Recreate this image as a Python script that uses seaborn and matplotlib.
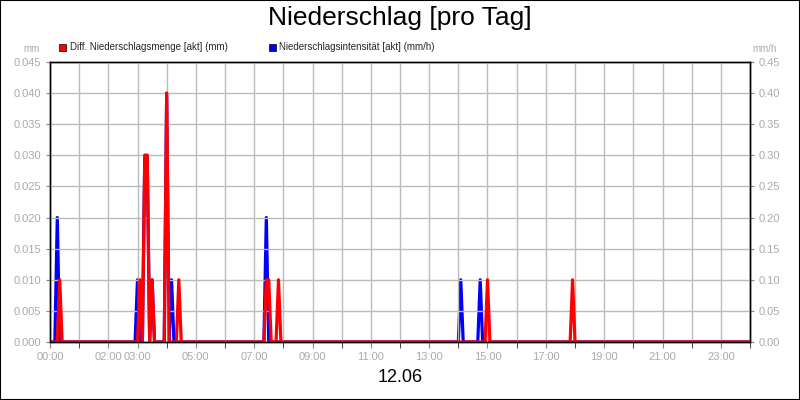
import numpy as np
import pandas as pd
import matplotlib
matplotlib.use("Agg")
import matplotlib.pyplot as plt
import seaborn as sns
from matplotlib.patches import Rectangle

# data: nonzero readings (minute of day -> value); all others are 0
red_minutes = [20, 185, 195, 200, 210, 240, 265, 445, 450, 470, 900, 1075]
red_values = [0.01, 0.01, 0.03, 0.03, 0.01, 0.04, 0.01, 0.01, 0.01, 0.01, 0.01, 0.01]
blue_minutes = [15, 180, 195, 200, 210, 240, 250, 445, 845, 885]
blue_values = [0.2, 0.1, 0.3, 0.3, 0.1, 0.4, 0.1, 0.2, 0.1, 0.1]
tick_hours = [0, 2, 3, 5, 7, 9, 11, 13, 15, 17, 19, 21, 23]

t = np.arange(0, 1441, 5)
red = np.zeros(len(t)); blue = np.zeros(len(t))
for m, v in zip(red_minutes, red_values):
    red[t == m] = v
for m, v in zip(blue_minutes, blue_values):
    blue[t == m] = v
df = pd.DataFrame({"h": t / 60.0, "red": red, "blue": blue})

sns.set_style("white")
plt.rcParams["font.family"] = ["Liberation Sans", "DejaVu Sans"]
fig = plt.figure(figsize=(8, 4), dpi=100)
fig.patches.append(Rectangle((0, 0), 1, 1, transform=fig.transFigure, fill=False,
                             edgecolor="black", linewidth=1.5))
ax = fig.add_axes([0.0625, 0.145, 0.875, 0.70])
ax2 = ax.twinx()

sns.lineplot(data=df, x="h", y="blue", ax=ax2, color="#0000ff", linewidth=2.3)
sns.lineplot(data=df, x="h", y="red", ax=ax, color="#ff0000", linewidth=2.3)
ax.set_zorder(ax2.get_zorder() + 1)
ax.patch.set_visible(False)

ax.set_xlim(0, 24)
ax.set_ylim(0, 0.045)
ax2.set_ylim(0, 0.45)
ax.set_yticks(np.arange(0, 0.0451, 0.005))
ax.set_yticklabels([f"{v:.3f}" for v in np.arange(0, 0.0451, 0.005)])
ax2.set_yticks(np.arange(0, 0.451, 0.05))
ax2.set_yticklabels([f"{v:.2f}" for v in np.arange(0, 0.451, 0.05)])
ax.set_xticks(range(0, 25), minor=True)
ax.set_xticks(tick_hours)
ax.set_xticklabels([f"{h:02d}:00" for h in tick_hours])
ax.grid(True, which="both", axis="x", color="#bbbbbb", linewidth=1)
ax.grid(True, which="major", axis="y", color="#bbbbbb", linewidth=1)
for a in (ax, ax2):
    a.tick_params(labelsize=8, labelcolor="#aaaaaa", color="#888888", length=3,
                  direction="out")
    a.set_xlabel(""); a.set_ylabel("")
    for s in a.spines.values():
        s.set_color("black"); s.set_linewidth(1)
ax.tick_params(axis="x", which="both", bottom=True, length=4)
ax.tick_params(axis="y", left=True)
ax2.tick_params(axis="y", right=True)

fig.text(0.5, 0.955, "Niederschlag [pro Tag]", ha="center", va="center", fontsize=19,
         color="black")
fig.text(0.05, 0.878, "mm", ha="right", va="center", fontsize=7, color="#aaaaaa")
fig.text(0.94, 0.878, "mm/h", ha="left", va="center", fontsize=7, color="#aaaaaa")
fig.patches.append(Rectangle((0.074, 0.873), 0.009, 0.018, transform=fig.transFigure,
                             facecolor="#ff0000", edgecolor="black", linewidth=0.5))
fig.text(0.087, 0.882, "Diff. Niederschlagsmenge [akt] (mm)", va="center", fontsize=7)
fig.patches.append(Rectangle((0.336, 0.873), 0.009, 0.018, transform=fig.transFigure,
                             facecolor="#0000ff", edgecolor="black", linewidth=0.5))
fig.text(0.349, 0.882, "Niederschlagsintensität [akt] (mm/h)", va="center", fontsize=7)
fig.text(0.5, 0.055, "12.06", ha="center", va="center", fontsize=13, color="black")

fig.savefig("out.png", dpi=100)
